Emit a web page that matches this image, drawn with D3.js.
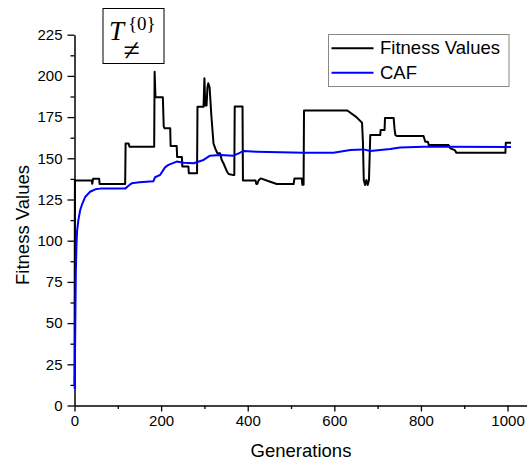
<!DOCTYPE html>
<html>
<head>
<meta charset="utf-8">
<script src="https://cdn.jsdelivr.net/npm/d3@7"></script>
<style>
  html, body { margin: 0; padding: 0; background: #fff; }
  svg { display: block; }
  .axis text { font-family: Arial, "Liberation Sans", sans-serif; font-size: 15px; fill: #000; }
  .axis path, .axis line { stroke: #000; }
</style>
</head>
<body>
<svg id="chart" width="527" height="466"></svg>
<script>
// Fitness value of the best individual per generation: [generation, fitness]
const fitnessValues = [
  [0, 12], [1, 137], [2, 136.5], [40, 136.5], [41, 134.5], [43, 137.6], [57, 137.6], [58, 134.4],
  [117, 134.4], [118, 159], [125, 159], [127, 157], [184, 157], [185, 202.5], [187, 187],
  [204, 187], [206, 169.5], [208, 168.2], [221, 168.2], [222, 157.5], [236, 157.5], [237, 150.8],
  [248, 150.8], [249, 145], [263, 145], [264, 141], [283, 141], [284, 181.3], [298, 181.3],
  [300, 198.5], [302, 182], [305, 182], [307, 193], [309, 195.5], [312, 193], [316, 176],
  [321, 159], [325, 156], [330, 153], [336, 153], [340, 149], [344, 147], [352, 142], [356, 140.5],
  [367, 139.8], [369, 139.8], [370, 181.5], [388, 181.5], [389, 136.6], [418, 136.6], [420, 134.4],
  [422, 134.4], [425, 136.5], [430, 137.8], [452, 135.8], [467, 134.4], [506, 134.4], [508, 137.8],
  [525, 137.8], [526, 134], [529, 134], [530, 179], [630, 179], [651, 175], [664, 171.6],
  [666, 160], [668, 136.8], [671, 133.8], [674, 136.8], [677, 133.8], [680, 136.8], [683, 164.1],
  [706, 164.1], [707, 167.2], [716, 167.2], [717, 174.5], [737, 174.5], [739, 168], [741, 164.1],
  [744, 163.5], [806, 163.5], [810, 160], [816, 160], [818, 158], [864, 158], [868, 156],
  [878, 155], [882, 153.3], [995, 153.3], [996, 159.5], [1008, 159.5]
];

// Cumulative average fitness (CAF): [generation, value]
const cafValues = [
  [0.5, 10], [1.5, 40], [3, 80], [4.5, 97], [6, 106], [9, 112.6], [13, 118.5], [17, 121.7],
  [25, 126.7], [36, 129.7], [48, 131.2], [60, 131.6], [117, 131.6], [124, 133.2], [132, 134.8],
  [150, 135.5], [182, 136], [186, 138.5], [198, 140], [209, 144.5], [217, 146], [236, 148],
  [252, 147.3], [275, 147], [298, 149], [313, 151.6], [336, 152], [367, 151.6], [379, 153],
  [390, 154.4], [421, 154], [475, 153.6], [529, 153.4], [598, 153.4], [637, 155], [667, 155.4],
  [683, 154.4], [729, 155.6], [752, 156.5], [806, 157], [864, 157], [1008, 156.8]
];

const xMajorTicks = [0, 200, 400, 600, 800, 1000];
const xMinorTicks = [100, 300, 500, 700, 900];
const yMajorTicks = [0, 25, 50, 75, 100, 125, 150, 175, 200, 225];
const yMinorTicks = [12.5, 37.5, 62.5, 87.5, 112.5, 137.5, 162.5, 187.5, 212.5];

const seriesNames = ["Fitness Values", "CAF"];
const seriesColors = ["#000000", "#0000ff"];

const svg = d3.select("#chart");

const x = d3.scaleLinear().domain([0, 1050]).range([74.5, 529.2]);
const y = d3.scaleLinear().domain([0, 225]).range([405.5, 34.7]);

// Minor ticks
svg.append("g").attr("class", "axis")
  .attr("transform", `translate(0,${y(0)})`)
  .call(d3.axisBottom(x).tickValues(xMinorTicks).tickSize(3.5).tickFormat(""))
  .call(g => g.select(".domain").remove())
  .selectAll("line").attr("stroke-width", 1.3);
svg.append("g").attr("class", "axis")
  .attr("transform", `translate(${x(0)},0)`)
  .call(d3.axisLeft(y).tickValues(yMinorTicks).tickSize(4).tickFormat(""))
  .call(g => g.select(".domain").remove())
  .selectAll("line").attr("stroke-width", 1.3);

// Major axes
const xAxis = svg.append("g").attr("class", "axis")
  .attr("transform", `translate(0,${y(0)})`)
  .call(d3.axisBottom(x).tickValues(xMajorTicks).tickSize(6).tickSizeOuter(0).tickPadding(4).tickFormat(d3.format("d")));
xAxis.select(".domain").attr("stroke-width", 1.5);
xAxis.selectAll("line").attr("stroke-width", 1.3);

const yAxis = svg.append("g").attr("class", "axis")
  .attr("transform", `translate(${x(0)},0)`)
  .call(d3.axisLeft(y).tickValues(yMajorTicks).tickSize(7).tickSizeOuter(0).tickPadding(5));
yAxis.select(".domain").attr("stroke-width", 1.5);
yAxis.selectAll("line").attr("stroke-width", 1.3);

// Series
const line = d3.line().x(d => x(d[0])).y(d => y(d[1]));
[fitnessValues, cafValues].forEach((data, i) => {
  svg.append("path")
    .datum(data)
    .attr("fill", "none")
    .attr("stroke", seriesColors[i])
    .attr("stroke-width", 2)
    .attr("stroke-linejoin", "round")
    .attr("d", line);
});

// Axis titles
svg.append("text")
  .attr("x", 301).attr("y", 457)
  .attr("text-anchor", "middle")
  .style("font-family", "Arial, 'Liberation Sans', sans-serif")
  .style("font-size", "18.5px")
  .text("Generations");
svg.append("text")
  .attr("transform", "translate(29,225) rotate(-90)")
  .attr("text-anchor", "middle")
  .style("font-family", "Arial, 'Liberation Sans', sans-serif")
  .style("font-size", "18.5px")
  .text("Fitness Values");

// Legend
const legend = svg.append("g");
legend.append("rect")
  .attr("x", 328.5).attr("y", 34.5).attr("width", 180.5).attr("height", 52)
  .attr("fill", "#fff").attr("stroke", "#888").attr("stroke-width", 1);
seriesNames.forEach((name, i) => {
  const ly = 48.3 + i * 24.4;
  legend.append("line")
    .attr("x1", 331.5).attr("x2", 373.5).attr("y1", ly).attr("y2", ly)
    .attr("stroke", seriesColors[i]).attr("stroke-width", 2);
  legend.append("text")
    .attr("x", 380).attr("y", ly + 6)
    .style("font-family", "Arial, 'Liberation Sans', sans-serif")
    .style("font-size", "18.5px")
    .text(name);
});

// Panel label T^{0}_{≠}
const tag = svg.append("g");
tag.append("rect")
  .attr("x", 103).attr("y", 8.5).attr("width", 61).attr("height", 55)
  .attr("fill", "#fff").attr("stroke", "#000").attr("stroke-width", 1);
tag.append("text")
  .attr("x", 109).attr("y", 40)
  .style("font-family", "'Liberation Serif', 'DejaVu Serif', serif")
  .style("font-style", "italic")
  .style("font-size", "27px")
  .text("T");
tag.append("text")
  .attr("x", 128).attr("y", 30)
  .style("font-family", "'Liberation Serif', 'DejaVu Serif', serif")
  .style("font-size", "19px")
  .text("{0}");
tag.append("text")
  .attr("x", 123.5).attr("y", 60)
  .style("font-family", "'Liberation Serif', 'DejaVu Serif', serif")
  .style("font-size", "30px")
  .text("≠");
</script>
</body>
</html>
